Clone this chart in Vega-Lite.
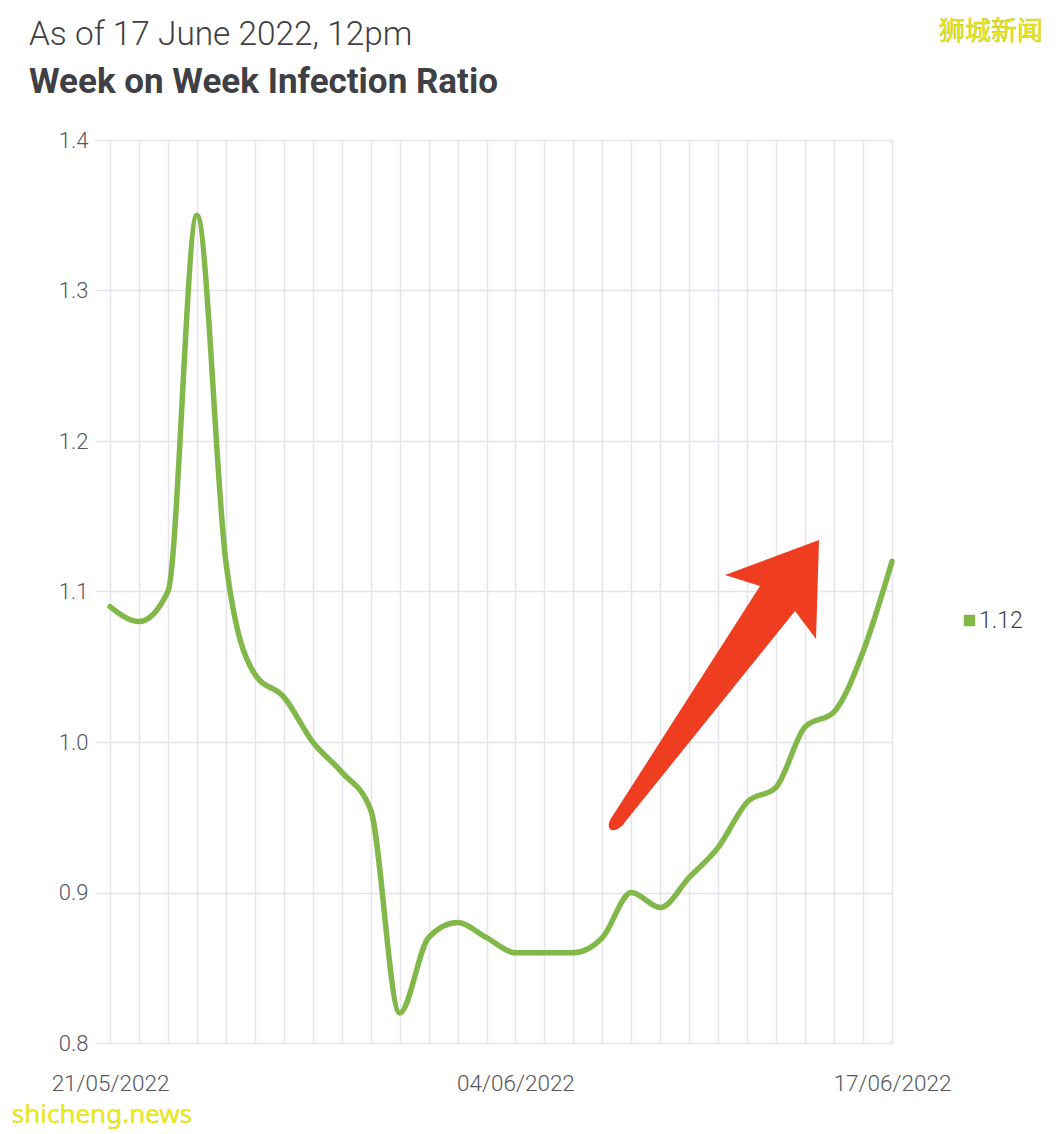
{
"$schema":"https://vega.github.io/schema/vega-lite/v6.json",
"width":782,"height":903,
"autosize":{"type":"none"},
"padding":{"left":110,"top":140,"right":166,"bottom":91},
"background":"#ffffff",
"title":{"text":"As of 17 June 2022, 12pm","subtitle":"Week on Week Infection Ratio","anchor":"start","frame":"group","dx":-81,"offset":-82,"font":"Roboto","fontSize":33.4,"fontWeight":300,"color":"#3f4046","subtitleFont":"Roboto","subtitleFontSize":35,"subtitleFontWeight":700,"subtitleColor":"#3f4046","subtitlePadding":13},
"datasets":{
"ratio":[
{"date":"2022-05-21","ratio":1.09,"series":"1.12"},
{"date":"2022-05-22","ratio":1.08,"series":"1.12"},
{"date":"2022-05-23","ratio":1.10,"series":"1.12"},
{"date":"2022-05-24","ratio":1.35,"series":"1.12"},
{"date":"2022-05-25","ratio":1.12,"series":"1.12"},
{"date":"2022-05-26","ratio":1.045,"series":"1.12"},
{"date":"2022-05-27","ratio":1.03,"series":"1.12"},
{"date":"2022-05-28","ratio":1.00,"series":"1.12"},
{"date":"2022-05-29","ratio":0.98,"series":"1.12"},
{"date":"2022-05-30","ratio":0.955,"series":"1.12"},
{"date":"2022-05-31","ratio":0.82,"series":"1.12"},
{"date":"2022-06-01","ratio":0.87,"series":"1.12"},
{"date":"2022-06-02","ratio":0.88,"series":"1.12"},
{"date":"2022-06-03","ratio":0.87,"series":"1.12"},
{"date":"2022-06-04","ratio":0.86,"series":"1.12"},
{"date":"2022-06-05","ratio":0.86,"series":"1.12"},
{"date":"2022-06-06","ratio":0.86,"series":"1.12"},
{"date":"2022-06-07","ratio":0.87,"series":"1.12"},
{"date":"2022-06-08","ratio":0.90,"series":"1.12"},
{"date":"2022-06-09","ratio":0.89,"series":"1.12"},
{"date":"2022-06-10","ratio":0.91,"series":"1.12"},
{"date":"2022-06-11","ratio":0.93,"series":"1.12"},
{"date":"2022-06-12","ratio":0.96,"series":"1.12"},
{"date":"2022-06-13","ratio":0.97,"series":"1.12"},
{"date":"2022-06-14","ratio":1.01,"series":"1.12"},
{"date":"2022-06-15","ratio":1.02,"series":"1.12"},
{"date":"2022-06-16","ratio":1.06,"series":"1.12"},
{"date":"2022-06-17","ratio":1.12,"series":"1.12"}
]},
"layer":[
{"data":{"name":"ratio"},
 "mark":{"type":"line","interpolate":"monotone","strokeWidth":5.5,"strokeCap":"round","clip":false},
 "encoding":{
  "x":{"field":"date","type":"temporal","title":null,
   "scale":{"type":"utc","domain":[{"year":2022,"month":5,"date":21,"utc":true},{"year":2022,"month":6,"date":17,"utc":true}]},
   "axis":{"tickCount":{"interval":"day","step":1},"grid":true,"gridColor":"#e4e4ea","gridWidth":1.5,"domain":false,"ticks":false,"labelPadding":29,"labelFont":"Roboto","labelFontSize":22.5,"labelFontWeight":300,"labelColor":"#55565c","labelOverlap":false,"labelFlush":false,"labelAngle":0,
    "labelExpr":"indexof(['21/05/2022','04/06/2022','17/06/2022'],utcFormat(datum.value,'%d/%m/%Y'))>=0?utcFormat(datum.value,'%d/%m/%Y'):''"}},
  "y":{"field":"ratio","type":"quantitative","title":null,
   "scale":{"domain":[0.8,1.4],"nice":false,"zero":false},
   "axis":{"values":[0.8,0.9,1.0,1.1,1.2,1.3,1.4],"format":".1f","grid":true,"gridColor":"#e4e4ea","gridWidth":1.5,"domain":false,"ticks":true,"tickColor":"#e4e4ea","tickWidth":1.5,"tickSize":15,"labelPadding":7,"labelFont":"Roboto","labelFontSize":22,"labelFontWeight":300,"labelColor":"#55565c"}},
  "color":{"field":"series","type":"nominal","title":null,
   "scale":{"domain":["1.12"],"range":["#82b84a"]},
   "legend":{"orient":"none","legendX":848,"legendY":469,"symbolType":"square","symbolSize":130,"symbolFillColor":"#82b84a","symbolStrokeColor":"#82b84a","symbolStrokeWidth":0,"labelFont":"Roboto","labelFontSize":23,"labelFontWeight":300,"labelColor":"#3f4046","labelOffset":-2,"padding":0,"title":null}}
 }},
{"data":{"values":[{"date":"2022-06-11T00:00:00Z","ratio":1.04}]},
 "mark":{"type":"point","filled":true,"opacity":1,"size":40000,"color":"#ee3d20","clip":false,
  "shape":"M1.008 -1.418 L0.978 -0.428 L0.768 -0.708 L-0.932 1.402 C-0.99 1.5 -1.14 1.53 -1.082 1.382 L0.418 -0.958 L0.068 -1.068 Z"},
 "encoding":{"x":{"field":"date","type":"temporal"},"y":{"field":"ratio","type":"quantitative"}}},
{"data":{"values":[{"date":"2022-06-20T10:00:00Z","ratio":1.4718,"label":"狮城新闻"}]},
 "mark":{"type":"text","font":"Noto Sans CJK SC","fontSize":26,"fill":"#eeee10","stroke":"#c8c820","strokeWidth":0.6,"align":"center","baseline":"middle","clip":false},
 "encoding":{"x":{"field":"date","type":"temporal"},"y":{"field":"ratio","type":"quantitative"},"text":{"field":"label"}}},
{"data":{"values":[{"date":"2022-05-20T17:20:00Z","ratio":0.7522,"label":"shicheng.news"}]},
 "mark":{"type":"text","font":"Noto Sans","fontSize":26,"fill":"#eeee10","stroke":"#b0b020","strokeWidth":0.2,"align":"center","baseline":"middle","clip":false},
 "encoding":{"x":{"field":"date","type":"temporal"},"y":{"field":"ratio","type":"quantitative"},"text":{"field":"label"}}}
]
}
